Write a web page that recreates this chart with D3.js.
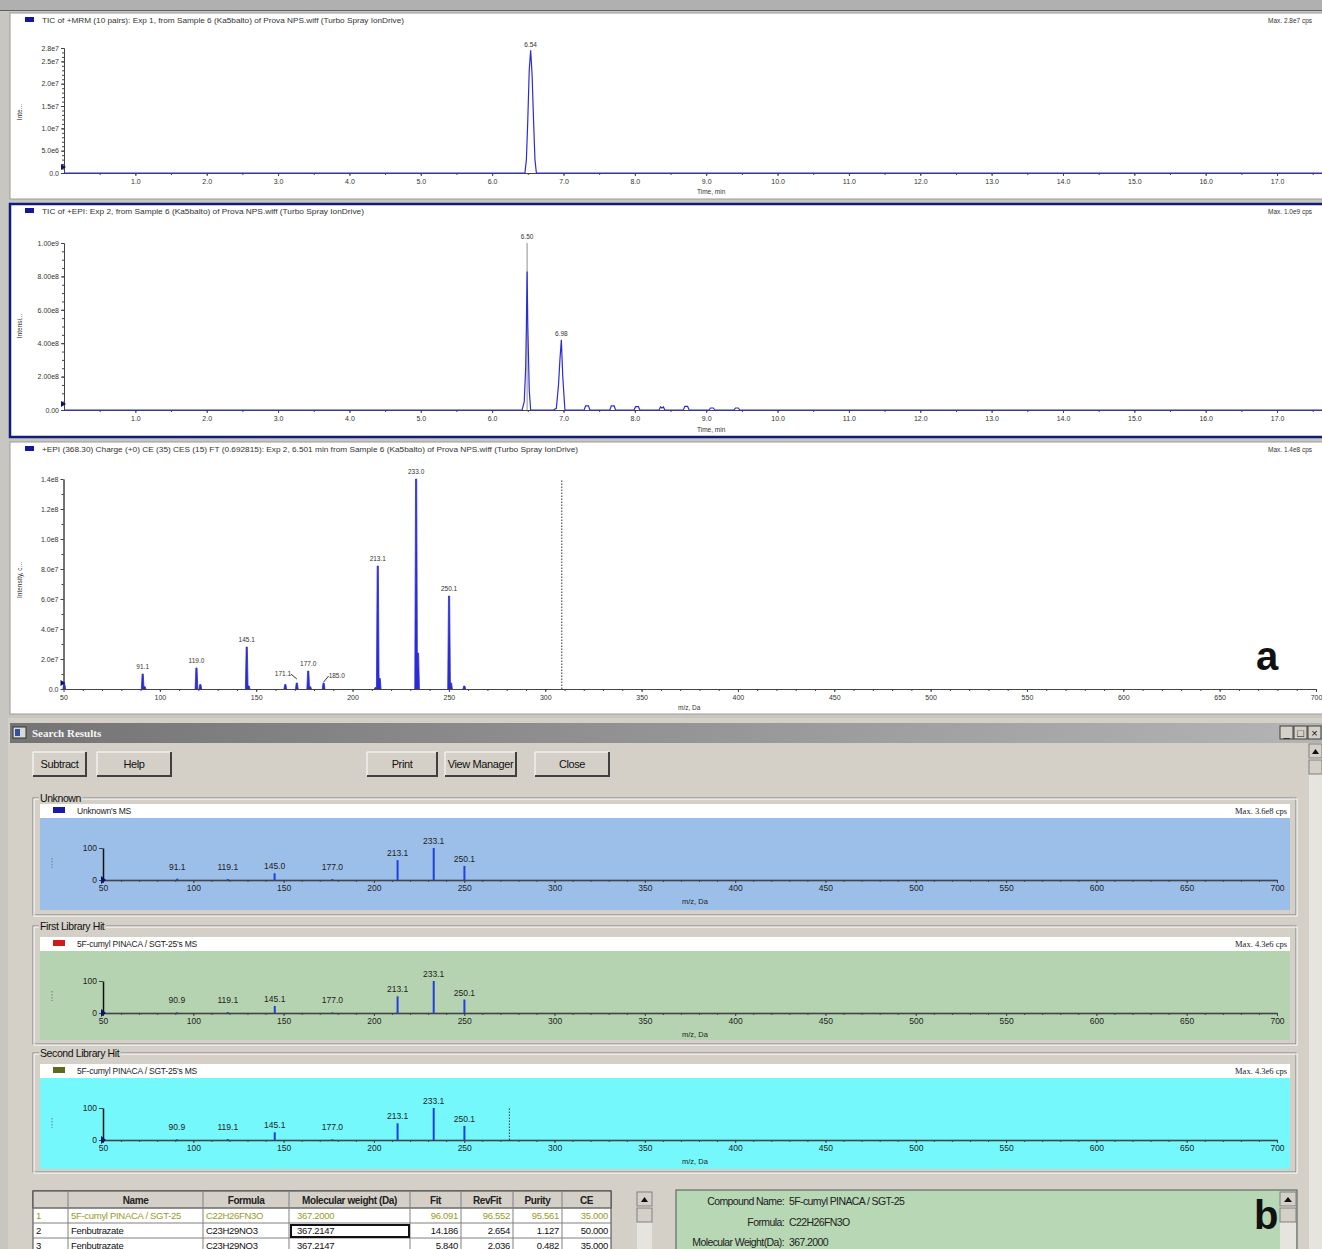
<!DOCTYPE html>
<html>
<head>
<meta charset="utf-8">
<script src="https://cdn.jsdelivr.net/npm/d3@7"></script>
<style>
body { margin: 0; background: #d4d0c8; }
svg { display: block; font-family: "Liberation Sans", Arial, sans-serif; }
</style>
</head>
<body>
<div id="app"></div>
<script>
// ---- data ----

// TIC of +MRM (time in min, intensity in cps)
const tic1Time = [0, 6.46, 6.48, 6.50, 6.52, 6.54, 6.56, 6.58, 6.60, 6.62, 17.63]
const tic1Int = [0, 0, 3e6, 1.2e7, 2.3e7, 2.75e7, 2.2e7, 1.2e7, 3e6, 0, 0]
const tic1YTicks = [0, 5e6, 1e7, 1.5e7, 2e7, 2.5e7, 2.8e7]
const tic1YLabels = ["0.0", "5.0e6", "1.0e7", "1.5e7", "2.0e7", "2.5e7", "2.8e7"]

// TIC of +EPI
const tic2Time = [0, 6.42, 6.45, 6.47, 6.48, 6.49, 6.50, 6.52, 6.54, 6.86, 6.90, 6.93, 6.95, 6.97, 6.99, 7.02,
  7.29, 7.31, 7.35, 7.37, 7.65, 7.67, 7.71, 7.73, 7.99, 8.01, 8.05, 8.07, 8.34, 8.36, 8.38, 8.40, 8.42,
  8.68, 8.70, 8.74, 8.76, 9.04, 9.06, 9.10, 9.12, 9.39, 9.41, 9.45, 9.47, 17.63]
const tic2Int = [0, 0, 5e7, 2.5e8, 5e8, 8.3e8, 5e8, 1.2e8, 0, 0, 1e7, 1.5e8, 3e8, 4.2e8, 2e8, 0,
  0, 2.5e7, 2.5e7, 0, 0, 2.5e7, 2.5e7, 0, 0, 2e7, 2e7, 0, 0, 1.8e7, 1.2e7, 1.8e7, 0,
  0, 2.2e7, 2.2e7, 0, 0, 1.2e7, 1.2e7, 0, 0, 1.2e7, 1.2e7, 0, 0]
const tic2YTicks = [0, 2e8, 4e8, 6e8, 8e8, 1e9]
const tic2YLabels = ["0.00", "2.00e8", "4.00e8", "6.00e8", "8.00e8", "1.00e9"]

const timeTicks = [1, 2, 3, 4, 5, 6, 7, 8, 9, 10, 11, 12, 13, 14, 15, 16, 17]
const timeLabels = timeTicks.map(t => t.toFixed(1))

// +EPI spectrum at 6.501 min
const msMz = [50.4, 91.1, 92.1, 119.0, 121.0, 145.1, 146.1, 165.1, 171.1, 177.0, 178.0, 185.0, 212.0, 213.1, 214.1, 233.0, 234.0, 250.1, 251.1, 258.0]
const msInt = [3e6, 1.0e7, 1.5e6, 1.4e7, 3e6, 2.8e7, 2e6, 3e6, 4e6, 1.2e7, 1.5e6, 4e6, 1e6, 8.2e7, 7e6, 1.4e8, 2.4e7, 6.2e7, 4e6, 2e6]
const msLabelMz = [91.1, 119.0, 145.1, 171.1, 177.0, 185.0, 213.1, 233.0, 250.1]
const msLabelText = ["91.1", "119.0", "145.1", "171.1", "177.0", "185.0", "213.1", "233.0", "250.1"]
const msYTicks = [0, 2e7, 4e7, 6e7, 8e7, 1e8, 1.2e8, 1.4e8]
const msYLabels = ["0.0", "2.0e7", "4.0e7", "6.0e7", "8.0e7", "1.0e8", "1.2e8", "1.4e8"]
const mzTicks = [50, 100, 150, 200, 250, 300, 350, 400, 450, 500, 550, 600, 650, 700]
const precursorMz = 308.6

// search results, relative intensity (%)
const unknownMz = [91.1, 119.1, 145.0, 177.0, 213.1, 233.1, 250.1]
const unknownRel = [4, 3, 21, 3, 62, 100, 44]
const unknownLabels = ["91.1", "119.1", "145.0", "177.0", "213.1", "233.1", "250.1"]
const hit1Mz = [90.9, 119.1, 145.1, 177.0, 213.1, 233.1, 250.1]
const hit1Rel = [2, 3, 22, 2, 52, 100, 42]
const hit1Labels = ["90.9", "119.1", "145.1", "177.0", "213.1", "233.1", "250.1"]
const hit2Mz = [90.9, 119.1, 145.1, 177.0, 213.1, 233.1, 250.1]
const hit2Rel = [2, 3, 24, 2, 52, 100, 44]
const hit2Labels = ["90.9", "119.1", "145.1", "177.0", "213.1", "233.1", "250.1"]

const buttonLabels = ["Subtract", "Help", "Print", "View Manager", "Close"]

const tableHeader = ["", "Name", "Formula", "Molecular weight (Da)", "Fit", "RevFit", "Purity", "CE"]
const tableRows = [
  ["1", "5F-cumyl PINACA / SGT-25", "C22H26FN3O", "367.2000", "96.091", "96.552", "95.561", "35.000"],
  ["2", "Fenbutrazate", "C23H29NO3", "367.2147", "14.186", "2.654", "1.127", "50.000"],
  ["3", "Fenbutrazate", "C23H29NO3", "367.2147", "5.840", "2.036", "0.482", "35.000"]
]
const compoundKeys = ["Compound Name:", "Formula:", "Molecular Weight(Da):"]
const compoundValues = ["5F-cumyl PINACA / SGT-25", "C22H26FN3O", "367.2000"]

// ---- drawing ----
let width = 1322
let height = 1249
let blue = "#2c2cd6"

let svg = d3.select("#app").append("svg")
    .attr("width", width)
    .attr("height", height)

svg.append("rect").attr("width", width).attr("height", height).attr("fill", "#c8c6c0")
svg.append("rect").attr("x", 0).attr("y", 0).attr("width", width).attr("height", 10).attr("fill", "#b0b0b0")
svg.append("line").attr("x1", 0).attr("x2", width).attr("y1", 10.5).attr("y2", 10.5).attr("stroke", "#606060")

function styleAxis(sel, size, color) {
    sel.selectAll("text").attr("font-size", size).attr("fill", color)
        .attr("font-family", "'Liberation Sans', Arial, sans-serif")
    sel.selectAll("line").attr("stroke", "#444")
    sel.select(".domain").attr("stroke", "#444")
}

// frame + title shared by the three upper panes
function paneFrame(p) {
    let g = svg.append("g")
    g.append("rect").attr("x", 10).attr("y", p.top).attr("width", 1330).attr("height", p.h)
        .attr("fill", "#fff").attr("stroke", p.border).attr("stroke-width", p.borderW)
    g.append("rect").attr("x", 25).attr("y", p.top + 4).attr("width", 9).attr("height", 5).attr("fill", "#15159e")
    g.append("text").attr("x", 42).attr("y", p.top + 10).attr("font-size", 6.5).attr("fill", "#333")
        .attr("textLength", p.titleLen).attr("lengthAdjust", "spacingAndGlyphs").text(p.title)
    g.append("text").attr("x", 1268).attr("y", p.top + 10).attr("font-size", 6.5).attr("fill", "#333").text(p.max)
    g.append("text").attr("transform", `translate(22,${p.yTitleY}) rotate(-90)`)
        .attr("text-anchor", "middle").attr("font-size", 6.5).attr("fill", "#333").text(p.yTitle)
    g.append("text").attr("x", p.xTitleX).attr("y", p.xTitleY).attr("font-size", 6.5).attr("fill", "#333").text(p.xTitle)
    return g
}

function drawAxes(g, x, y, p) {
    let xa = g.append("g").attr("transform", `translate(0,${p.base})`)
        .call(d3.axisBottom(x).tickValues(p.xTicks).tickFormat((d, i) => p.xLabels[i]).tickSize(3).tickPadding(3).tickSizeOuter(0))
    styleAxis(xa, 7, "#333")
    let xm = g.append("g").attr("transform", `translate(0,${p.base})`)
        .call(d3.axisBottom(x).tickValues(p.xMinor).tickFormat("").tickSize(2).tickSizeOuter(0))
    styleAxis(xm, 7, "#333")
    let ya = g.append("g").attr("transform", `translate(${x.range()[0]},0)`)
        .call(d3.axisLeft(y).tickValues(p.yTicks).tickFormat((d, i) => p.yLabels[i]).tickSize(3).tickPadding(2).tickSizeOuter(0))
    styleAxis(ya, 7, "#333")
    let ym = g.append("g").attr("transform", `translate(${x.range()[0]},0)`)
        .call(d3.axisLeft(y).tickValues(p.yMinor).tickFormat("").tickSize(2).tickSizeOuter(0))
    styleAxis(ym, 7, "#333")
    // little start marker on the y axis
    let x0 = x.range()[0]
    g.append("path").attr("d", `M${x0 - 3},${p.base - 9}L${x0 + 2},${p.base - 6}L${x0 - 3},${p.base - 3}Z`).attr("fill", "#101070")
}

// pane 1: TIC of +MRM
{
    let p = {top: 13, h: 186, border: "#9a9a9a", borderW: 1, titleLen: 362,
        title: "TIC of +MRM (10 pairs): Exp 1, from Sample 6 (Ka5balto) of Prova NPS.wiff (Turbo Spray IonDrive)",
        max: "Max. 2.8e7 cps", yTitle: "Inte...", yTitleY: 112, xTitle: "Time, min", xTitleX: 697, xTitleY: 194,
        base: 173, xTicks: timeTicks, xLabels: timeLabels, xMinor: d3.range(0.5, 17.6, 0.5),
        yTicks: tic1YTicks, yLabels: tic1YLabels, yMinor: d3.range(0, 2.8e7, 1e6)}
    let g = paneFrame(p)
    let x = d3.scaleLinear().domain([0, 17.63]).range([64, 1322])
    let y = d3.scaleLinear().domain([0, 2.8e7]).range([173, 48])
    drawAxes(g, x, y, p)
    g.append("path").datum(d3.zip(tic1Time, tic1Int))
        .attr("d", d3.line().x(d => x(d[0])).y(d => y(d[1])))
        .attr("fill", "none").attr("stroke", blue).attr("stroke-width", 1.2)
    g.append("text").attr("x", x(6.54)).attr("y", y(2.75e7) - 3).attr("text-anchor", "middle")
        .attr("font-size", 6.5).attr("fill", "#333").text("6.54")
}

// pane 2: TIC of +EPI (selected pane, dark frame)
{
    let p = {top: 204, h: 233, border: "#101c78", borderW: 2.5, titleLen: 322,
        title: "TIC of +EPI: Exp 2, from Sample 6 (Ka5balto) of Prova NPS.wiff (Turbo Spray IonDrive)",
        max: "Max. 1.0e9 cps", yTitle: "Intensi...", yTitleY: 326, xTitle: "Time, min", xTitleX: 697, xTitleY: 432,
        base: 410, xTicks: timeTicks, xLabels: timeLabels, xMinor: d3.range(0.5, 17.6, 0.5),
        yTicks: tic2YTicks, yLabels: tic2YLabels, yMinor: d3.range(0, 1e9, 5e7)}
    let g = paneFrame(p)
    let x = d3.scaleLinear().domain([0, 17.63]).range([64, 1322])
    let y = d3.scaleLinear().domain([0, 1e9]).range([410, 243])
    drawAxes(g, x, y, p)
    g.append("line").attr("x1", x(6.49)).attr("x2", x(6.49)).attr("y1", y(0)).attr("y2", y(1e9))
        .attr("stroke", "#a0a0a0").attr("stroke-width", 1.2)
    g.append("path").datum(d3.zip(tic2Time, tic2Int))
        .attr("d", d3.line().x(d => x(d[0])).y(d => y(d[1])))
        .attr("fill", "none").attr("stroke", blue).attr("stroke-width", 1.2)
    g.append("text").attr("x", x(6.49)).attr("y", y(1e9) - 4).attr("text-anchor", "middle")
        .attr("font-size", 6.5).attr("fill", "#333").text("6.50")
    g.append("text").attr("x", x(6.97)).attr("y", y(4.2e8) - 4).attr("text-anchor", "middle")
        .attr("font-size", 6.5).attr("fill", "#333").text("6.98")
}

// pane 3: +EPI spectrum
{
    let p = {top: 442, h: 272, border: "#9a9a9a", borderW: 1, titleLen: 536,
        title: "+EPI (368.30) Charge (+0) CE (35) CES (15) FT (0.692815): Exp 2, 6.501 min from Sample 6 (Ka5balto) of Prova NPS.wiff (Turbo Spray IonDrive)",
        max: "Max. 1.4e8 cps", yTitle: "Intensity, c...", yTitleY: 580, xTitle: "m/z, Da", xTitleX: 678, xTitleY: 710,
        base: 689, xTicks: mzTicks, xLabels: mzTicks.map(String), xMinor: d3.range(60, 700, 10),
        yTicks: msYTicks, yLabels: msYLabels, yMinor: d3.range(0, 1.4e8, 1e7)}
    let g = paneFrame(p)
    let x = d3.scaleLinear().domain([50, 700]).range([63.5, 1316])
    let y = d3.scaleLinear().domain([0, 1.4e8]).range([689, 479])
    drawAxes(g, x, y, p)
    g.append("line").attr("x1", x(precursorMz)).attr("x2", x(precursorMz)).attr("y1", y(0)).attr("y2", y(1.4e8))
        .attr("stroke", "#333").attr("stroke-dasharray", "1.5,1.5")
    let peak = d3.line().x(d => x(d[0])).y(d => y(d[1]))
    g.selectAll(".peak").data(d3.zip(msMz, msInt)).enter().append("path")
        .attr("class", "peak")
        .attr("d", d => peak([[d[0] - 0.7, 0], [d[0] - 0.3, d[1]], [d[0] + 0.3, d[1]], [d[0] + 0.7, 0]]))
        .attr("fill", blue).attr("stroke", blue).attr("stroke-width", 0.8)
    let look = new Map(d3.zip(msMz, msInt))
    msLabelMz.forEach((mz, i) => {
        let txt = msLabelText[i]
        let top = y(look.get(mz))
        if (txt === "171.1") {
            g.append("text").attr("x", x(mz) - 22).attr("y", top - 7).attr("font-size", 6.5).attr("fill", "#333").text(txt)
            g.append("path").attr("d", `M${x(mz) - 6},${top - 9}L${x(mz)},${top - 4}`).attr("stroke", "#333").attr("fill", "none")
        } else if (txt === "185.0") {
            g.append("text").attr("x", x(mz) + 5).attr("y", top - 5).attr("font-size", 6.5).attr("fill", "#333").text(txt)
            g.append("path").attr("d", `M${x(mz)},${top - 1}L${x(mz) + 5},${top - 7}`).attr("stroke", "#333").attr("fill", "none")
        } else {
            g.append("text").attr("x", x(mz)).attr("y", top - 5).attr("text-anchor", "middle")
                .attr("font-size", 6.5).attr("fill", "#333").text(txt)
        }
    })
    g.append("text").attr("x", 1256).attr("y", 670).attr("font-size", 40).attr("font-weight", "bold")
        .attr("fill", "#111").text("a")
}

// ---- Search Results window ----
let grad = svg.append("defs").append("linearGradient").attr("id", "bar")
grad.append("stop").attr("offset", 0).attr("stop-color", "#747474")
grad.append("stop").attr("offset", 1).attr("stop-color", "#b4b4b4")

svg.append("rect").attr("x", 8).attr("y", 718).attr("width", 1320).attr("height", 540).attr("fill", "#d4d0c8")
svg.append("rect").attr("x", 10).attr("y", 723).attr("width", 1312).attr("height", 20).attr("fill", "url(#bar)")
svg.append("rect").attr("x", 13).attr("y", 727).attr("width", 13).attr("height", 11).attr("fill", "#d8d8d8").attr("stroke", "#333")
svg.append("rect").attr("x", 15).attr("y", 729).attr("width", 5).attr("height", 7).attr("fill", "#3050a0")
svg.append("text").attr("x", 32).attr("y", 737).attr("font-size", 11).attr("font-weight", "bold")
    .attr("font-family", "'Liberation Serif', serif").attr("fill", "#f4f4f4").text("Search Results")
// caption buttons
;[["_", 1280], ["□", 1294], ["×", 1308]].forEach(([s, bx]) => {
    svg.append("rect").attr("x", bx).attr("y", 726).attr("width", 13).attr("height", 13).attr("fill", "#d4d0c8").attr("stroke", "#404040")
    svg.append("text").attr("x", bx + 6.5).attr("y", 737).attr("text-anchor", "middle").attr("font-size", 11).attr("fill", "#111").text(s)
})

// window scrollbar
svg.append("rect").attr("x", 1309).attr("y", 744).attr("width", 13).attr("height", 510).attr("fill", "#e6e4de")
svg.append("rect").attr("x", 1309).attr("y", 744).attr("width", 13).attr("height", 14).attr("fill", "#d4d0c8").attr("stroke", "#808080")
svg.append("rect").attr("x", 1309).attr("y", 760).attr("width", 13).attr("height", 14).attr("fill", "#d4d0c8").attr("stroke", "#808080")
svg.append("path").attr("d", "M1312,754L1315.5,749L1319,754Z").attr("fill", "#111")

function button(bx, by, bw, bh, label) {
    svg.append("rect").attr("x", bx).attr("y", by).attr("width", bw).attr("height", bh).attr("fill", "#d4d0c8")
    svg.append("path").attr("d", `M${bx},${by + bh}V${by}H${bx + bw}`).attr("stroke", "#fff").attr("fill", "none")
    svg.append("path").attr("d", `M${bx + bw},${by}V${by + bh}H${bx}`).attr("stroke", "#404040").attr("stroke-width", 2).attr("fill", "none")
    svg.append("text").attr("x", bx + bw / 2).attr("y", by + bh / 2 + 4).attr("text-anchor", "middle")
        .attr("font-size", 11).attr("fill", "#111").attr("letter-spacing", -0.4).text(label)
}
let buttonBoxes = [[33, 53], [97, 74], [367, 70], [445, 71], [535, 74]]
buttonLabels.forEach((b, i) => button(buttonBoxes[i][0], 752, buttonBoxes[i][1], 24, b))

function libraryPane(L, spec) {
    let g = svg.append("g")
    g.append("rect").attr("x", 33).attr("y", L.frameTop).attr("width", 1263).attr("height", L.frameH)
        .attr("fill", "none").attr("stroke", "#808080")
    g.append("rect").attr("x", 34).attr("y", L.frameTop + 1).attr("width", 1263).attr("height", L.frameH)
        .attr("fill", "none").attr("stroke", "#fff")
    let lab = g.append("text").attr("x", 40).attr("y", L.frameTop + 4).attr("font-size", 10.5)
        .attr("fill", "#111").attr("letter-spacing", -0.4).text(spec.group)
    let bb = lab.node().getBBox()
    g.insert("rect", "text").attr("x", bb.x - 1).attr("y", bb.y).attr("width", bb.width + 2).attr("height", bb.height).attr("fill", "#d4d0c8")

    g.append("rect").attr("x", 40).attr("y", L.headTop).attr("width", 1250).attr("height", 14).attr("fill", "#fff")
    g.append("rect").attr("x", 40).attr("y", L.headTop + 14).attr("width", 1250).attr("height", L.plotH).attr("fill", spec.bg)
    g.append("rect").attr("x", 53).attr("y", L.headTop + 3).attr("width", 12).attr("height", 6).attr("fill", spec.swatch)
    g.append("text").attr("x", 77).attr("y", L.headTop + 10).attr("font-size", 8.5).attr("fill", "#222")
        .attr("letter-spacing", -0.2).text(spec.name)
    g.append("text").attr("x", 1287).attr("y", L.headTop + 10).attr("text-anchor", "end").attr("font-size", 8.5)
        .attr("font-family", "'Liberation Serif', serif").attr("fill", "#222").text(spec.max)

    let x = d3.scaleLinear().domain([50, 700]).range([103, 1277])
    let y = d3.scaleLinear().domain([0, 100]).range([L.base, L.base - 32])

    let xa = g.append("g").attr("transform", `translate(0,${L.base})`)
        .call(d3.axisBottom(x).tickValues(mzTicks).tickFormat(d => String(d)).tickSize(3).tickPadding(2).tickSizeOuter(0))
    styleAxis(xa, 8.5, "#222")
    xa.select(".domain").attr("stroke", "#223").attr("stroke-width", 1.5)
    let xm = g.append("g").attr("transform", `translate(0,${L.base})`)
        .call(d3.axisBottom(x).tickValues(d3.range(60, 700, 10)).tickFormat("").tickSize(2).tickSizeOuter(0))
    styleAxis(xm, 8.5, "#222")
    let ya = g.append("g").attr("transform", `translate(103,0)`)
        .call(d3.axisLeft(y).tickValues([0, 100]).tickFormat(d => String(d)).tickSize(4).tickPadding(2).tickSizeOuter(0))
    styleAxis(ya, 8.5, "#222")
    ya.select(".domain").attr("stroke", "#111").attr("stroke-width", 1.5)
    g.append("path").attr("d", `M101,${L.base - 4}L106,${L.base}L101,${L.base + 4}Z`).attr("fill", "#101070")
    g.append("text").attr("x", 682).attr("y", L.base + 24).attr("font-size", 7.5).attr("fill", "#222").text("m/z, Da")
    g.append("line").attr("x1", 52).attr("x2", 52).attr("y1", L.base - 22).attr("y2", L.base - 12)
        .attr("stroke", "#777").attr("stroke-dasharray", "1.5,1.5")

    if (spec.marker) {
        g.append("line").attr("x1", x(spec.marker)).attr("x2", x(spec.marker)).attr("y1", y(0)).attr("y2", y(100))
            .attr("stroke", "#333").attr("stroke-dasharray", "1.5,1.5")
    }
    let peaks = d3.zip(spec.mz, spec.rel, spec.labels)
    g.selectAll(".bar").data(peaks).enter().append("line")
        .attr("x1", d => x(d[0])).attr("x2", d => x(d[0]))
        .attr("y1", y(0)).attr("y2", d => y(d[1]))
        .attr("stroke", "#1f3fe0").attr("stroke-width", 2)
    g.selectAll(".lbl").data(peaks).enter().append("text")
        .attr("x", d => x(d[0])).attr("y", d => Math.min(y(d[1]), L.base - 6) - 4)
        .attr("text-anchor", "middle").attr("font-size", 8.5).attr("fill", "#222").text(d => d[2])
}

libraryPane({frameTop: 798, frameH: 117, headTop: 804, plotH: 92, base: 880},
    {group: "Unknown", name: "Unknown's MS", max: "Max. 3.6e8 cps", bg: "#9cbfe9", swatch: "#1a1aa6",
        mz: unknownMz, rel: unknownRel, labels: unknownLabels})
libraryPane({frameTop: 926, frameH: 118, headTop: 937, plotH: 89, base: 1013},
    {group: "First Library Hit", name: "5F-cumyl PINACA / SGT-25's MS", max: "Max. 4.3e6 cps", bg: "#b6d3b1", swatch: "#d01a1a",
        mz: hit1Mz, rel: hit1Rel, labels: hit1Labels})
libraryPane({frameTop: 1053, frameH: 119, headTop: 1064, plotH: 91, base: 1140},
    {group: "Second Library Hit", name: "5F-cumyl PINACA / SGT-25's MS", max: "Max. 4.3e6 cps", bg: "#74f8fb", swatch: "#5c6a1a",
        mz: hit2Mz, rel: hit2Rel, labels: hit2Labels, marker: 275})

// ---- hit table (third row only just fits at the bottom edge) ----
let colEdges = [33, 68, 203, 289, 410, 461, 513, 562, 611]
let rowTop = [1191, 1208, 1223, 1238]
svg.append("rect").attr("x", 33).attr("y", 1191).attr("width", 578).attr("height", 70).attr("fill", "#fff").attr("stroke", "#404040")
svg.append("rect").attr("x", 33).attr("y", 1191).attr("width", 578).attr("height", 17).attr("fill", "#d4d0c8").attr("stroke", "#404040")
tableHeader.forEach((h, c) => {
    if (c > 0) svg.append("line").attr("x1", colEdges[c]).attr("x2", colEdges[c]).attr("y1", 1191).attr("y2", 1260).attr("stroke", "#808080")
    svg.append("text").attr("x", (colEdges[c] + colEdges[c + 1]) / 2).attr("y", 1203.5).attr("text-anchor", "middle")
        .attr("font-size", 10).attr("font-weight", "bold").attr("fill", "#222").attr("letter-spacing", -0.4).text(h)
})
tableRows.forEach((row, r) => {
    let ry = rowTop[r + 1]
    svg.append("line").attr("x1", 33).attr("x2", 611).attr("y1", ry).attr("y2", ry).attr("stroke", "#808080")
    let color = r === 0 ? "#9a9a28" : "#111"
    row.forEach((v, c) => {
        let right = c >= 4
        svg.append("text")
            .attr("x", right ? colEdges[c + 1] - 3 : colEdges[c] + (c === 3 ? 8 : 3))
            .attr("y", ry + 10.5).attr("text-anchor", right ? "end" : "start")
            .attr("font-size", 9.5).attr("fill", color).attr("letter-spacing", -0.3).text(v)
    })
})
svg.append("rect").attr("x", 291).attr("y", 1225).attr("width", 118).attr("height", 12)
    .attr("fill", "none").attr("stroke", "#111").attr("stroke-width", 2)
// table scrollbar
svg.append("rect").attr("x", 637).attr("y", 1192).attr("width", 15).attr("height", 60).attr("fill", "#e6e4de")
svg.append("rect").attr("x", 637).attr("y", 1192).attr("width", 15).attr("height", 14).attr("fill", "#d4d0c8").attr("stroke", "#808080")
svg.append("rect").attr("x", 637).attr("y", 1208).attr("width", 15).attr("height", 14).attr("fill", "#d4d0c8").attr("stroke", "#808080")
svg.append("path").attr("d", "M641,1202L644.5,1197L648,1202Z").attr("fill", "#111")

// ---- compound details ----
svg.append("rect").attr("x", 676).attr("y", 1190).attr("width", 621).attr("height", 70).attr("fill", "#b8d7b5").attr("stroke", "#555")
compoundKeys.forEach((k, i) => {
    let ty = 1205 + i * 20.5
    svg.append("text").attr("x", 784).attr("y", ty).attr("text-anchor", "end").attr("font-size", 10.5)
        .attr("fill", "#222").attr("letter-spacing", -0.6).text(k)
    svg.append("text").attr("x", 789).attr("y", ty).attr("font-size", 10.5)
        .attr("fill", "#222").attr("letter-spacing", -0.6).text(compoundValues[i])
})
svg.append("rect").attr("x", 1280).attr("y", 1192).attr("width", 16).attr("height", 60).attr("fill", "#e6e4de")
svg.append("rect").attr("x", 1280).attr("y", 1192).attr("width", 16).attr("height", 14).attr("fill", "#d4d0c8").attr("stroke", "#808080")
svg.append("rect").attr("x", 1280).attr("y", 1208).attr("width", 16).attr("height", 14).attr("fill", "#d4d0c8").attr("stroke", "#808080")
svg.append("path").attr("d", "M1284,1202L1288,1197L1292,1202Z").attr("fill", "#111")
svg.append("text").attr("x", 1254).attr("y", 1229).attr("font-size", 40).attr("font-weight", "bold")
    .attr("fill", "#111").text("b")
</script>
</body>
</html>
